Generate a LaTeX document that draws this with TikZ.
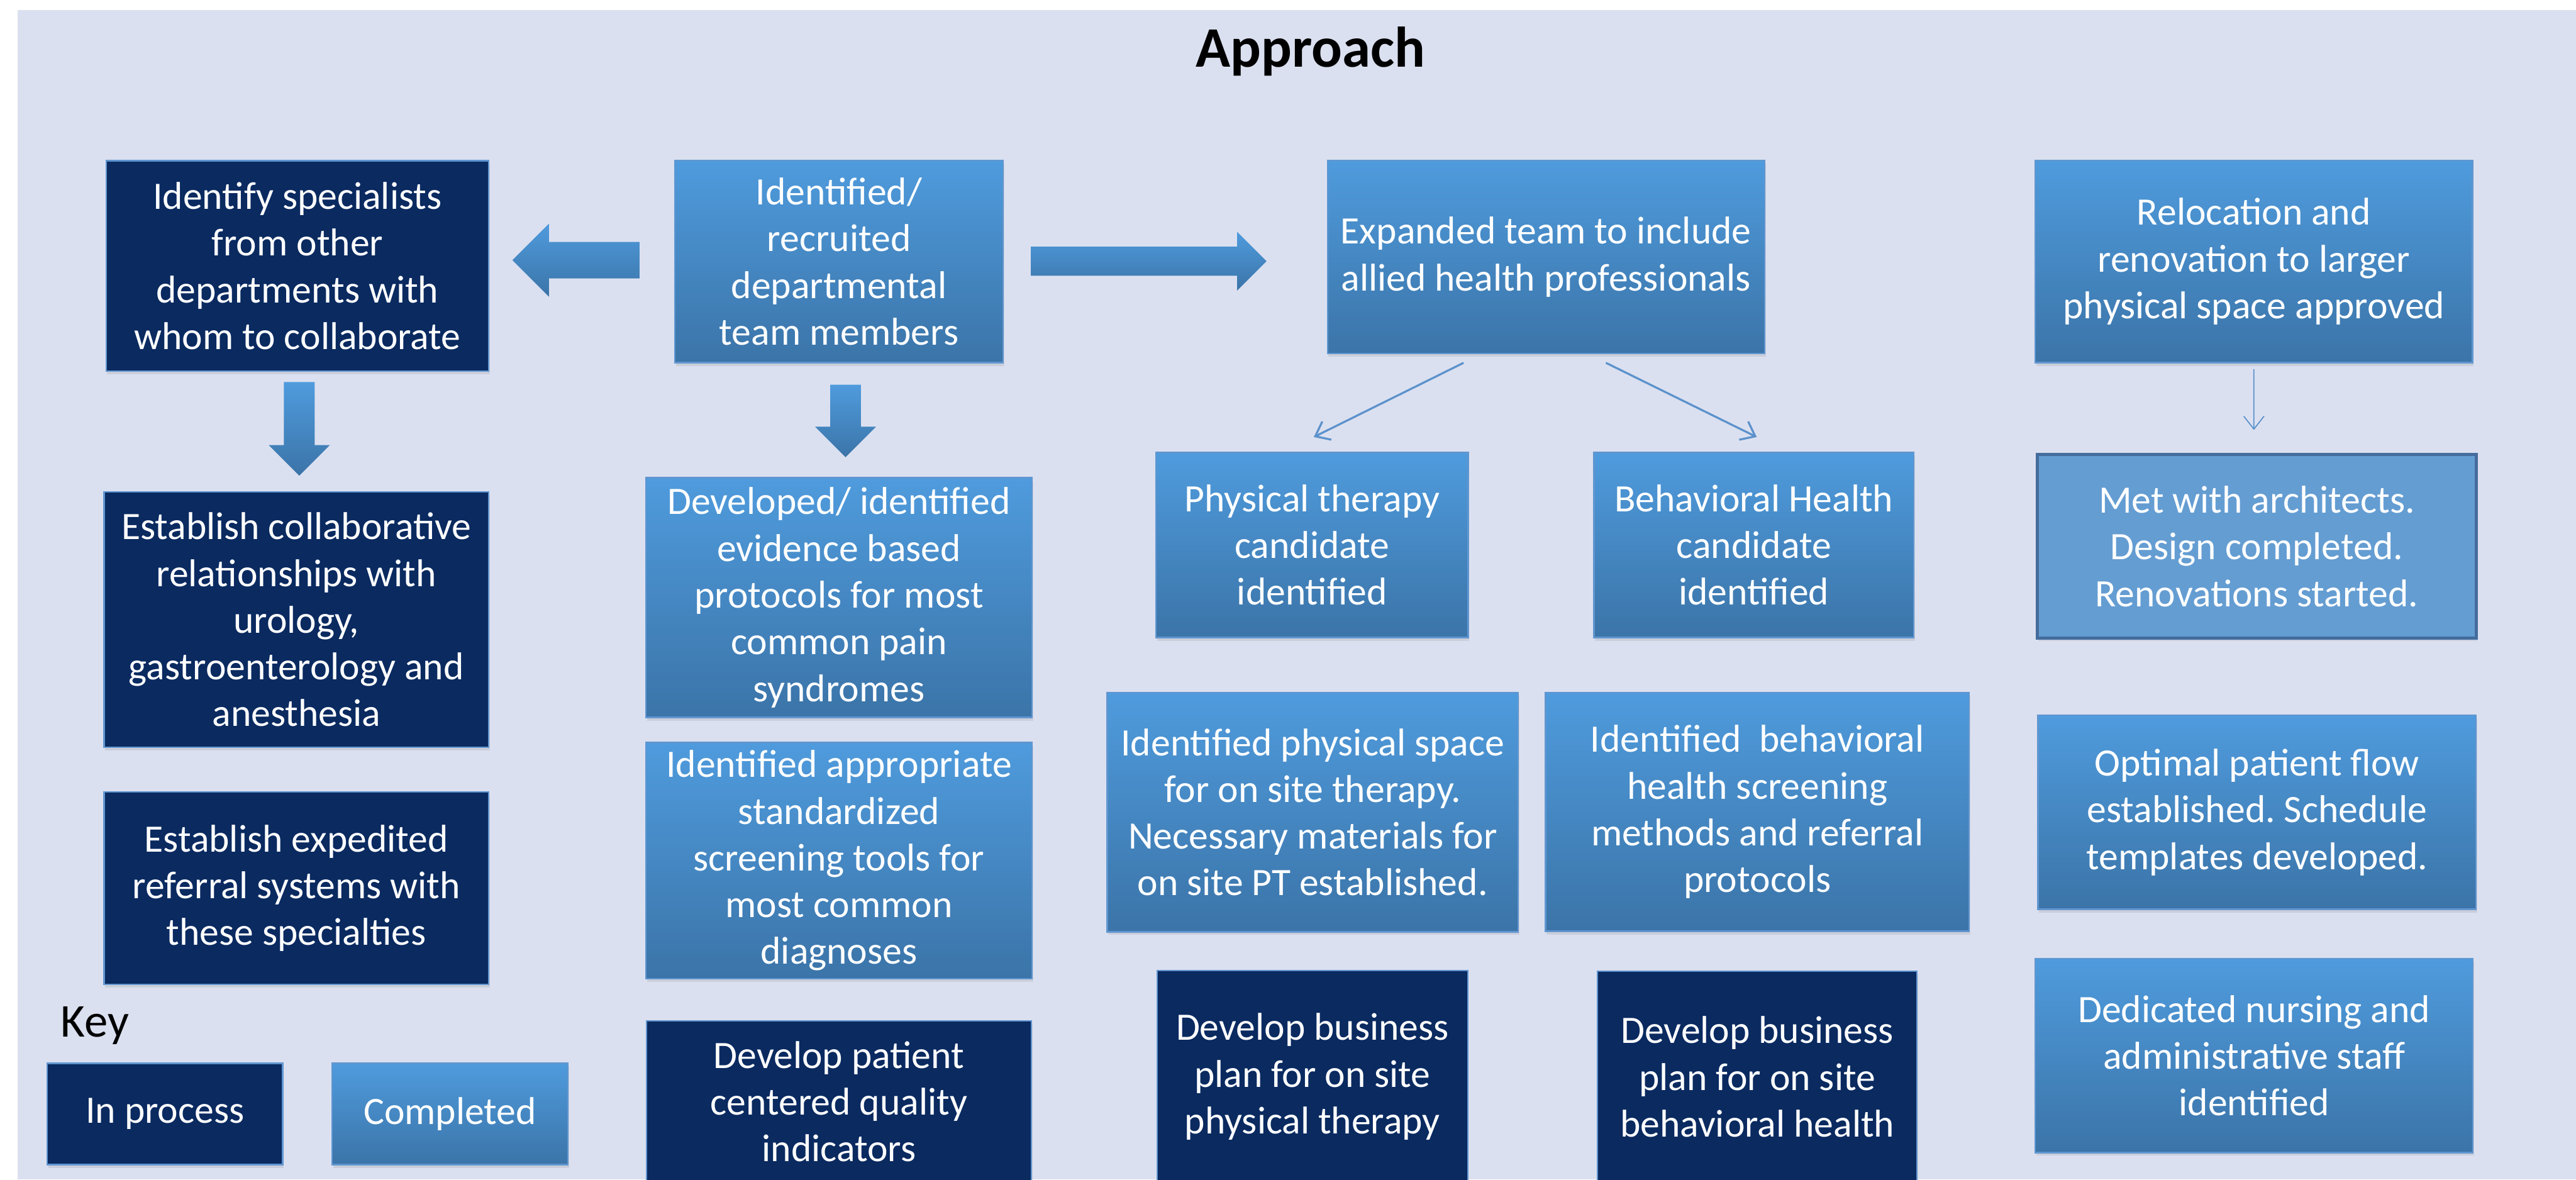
\documentclass[tikz,border=0pt]{standalone}
\usepackage{fontspec}
\setmainfont{Carlito}
\frenchspacing
\usetikzlibrary{arrows.meta,shapes.arrows,shadows}

\definecolor{panel}{RGB}{219,224,240}
\definecolor{navy}{RGB}{10,42,96}
\definecolor{skytop}{RGB}{79,155,221}
\definecolor{skybottom}{RGB}{59,116,168}
\definecolor{rim}{RGB}{96,150,208}
\definecolor{midblue}{RGB}{100,157,210}
\definecolor{midrim}{RGB}{68,108,156}
\definecolor{wire}{RGB}{92,146,204}

\newcommand{\boxfont}{\fontsize{21}{25.3}\selectfont}

\tikzset{
    box/.style={draw=rim, line width=0.8pt, text=white, align=center,
                inner sep=0pt, font=\boxfont,
                drop shadow={shadow xshift=0.02cm, shadow yshift=-0.06cm,
                             opacity=0.18}},
    completed/.style={box, top color=skytop, bottom color=skybottom},
    inprocess/.style={box, fill=navy},
    underway/.style={box, fill=midblue, draw=midrim, line width=1.6pt},
    bigarrow/.style={single arrow, anchor=tip,
                     top color=skytop, bottom color=skybottom},
    link/.style={draw=wire, line width=1.1pt,
                 -{Straight Barb[length=7pt, width=11pt]}},
}

\begin{document}
\begin{tikzpicture}

    \useasboundingbox (0,0) rectangle (49.02,22.44);
    \fill[white] (0,0) rectangle (49.02,22.44);
    \fill[panel] (0.34,0) rectangle (49.02,22.25);

    \node[font=\fontsize{31}{37}\selectfont\bfseries, anchor=base] (title) at (24.94,21.17) {Approach};

    % top row
    \node[inprocess, minimum width=7.28cm, minimum height=4.00cm] (specialists) at (5.66,17.38)
        {Identify specialists\\from other\\departments with\\whom to collaborate};
    \node[completed, minimum width=6.25cm, minimum height=3.85cm] (recruited) at (15.965,17.465)
        {Identified/\\recruited\\departmental\\team members};
    \node[completed, minimum width=8.32cm, minimum height=3.68cm] (expanded) at (29.42,17.55)
        {Expanded team to include\\allied health professionals};
    \node[completed, minimum width=8.32cm, minimum height=3.85cm] (relocation) at (42.89,17.465)
        {Relocation and\\renovation to larger\\physical space approved};

    % block arrows (shaft = 2 x inner sep)
    \node[bigarrow, shape border rotate=180, inner sep=0.34cm, minimum height=2.42cm,
          minimum width=1.38cm, single arrow head extend=0.35cm] (toleft) at (9.74,17.49) {};
    \node[bigarrow, inner sep=0.27cm, minimum height=4.48cm, minimum width=1.10cm,
          single arrow head extend=0.28cm] (toright) at (24.11,17.47) {};
    \node[bigarrow, shape border rotate=270, inner sep=0.285cm, minimum height=1.78cm,
          minimum width=1.15cm, single arrow head extend=0.29cm] (downleft) at (5.695,13.38) {};
    \node[bigarrow, shape border rotate=270, inner sep=0.285cm, minimum height=1.38cm,
          minimum width=1.16cm, single arrow head extend=0.29cm] (downmid) at (16.09,13.73) {};

    % second row
    \node[inprocess, minimum width=7.32cm, minimum height=4.86cm] (collab) at (5.64,10.65)
        {Establish collaborative\\relationships with\\urology,\\gastroenterology and\\anesthesia};
    \node[completed, minimum width=7.35cm, minimum height=4.56cm] (protocols) at (15.965,11.07)
        {Developed/ identified\\evidence based\\protocols for most\\common pain\\syndromes};
    \node[completed, minimum width=5.94cm, minimum height=3.52cm] (ptcand) at (24.97,12.07)
        {Physical therapy\\candidate\\identified};
    \node[completed, minimum width=6.09cm, minimum height=3.52cm] (bhcand) at (33.375,12.07)
        {Behavioral Health\\candidate\\identified};
    \node[underway, minimum width=8.35cm, minimum height=3.49cm] (architects) at (42.945,12.045)
        {Met with architects.\\Design completed.\\Renovations started.};

    % third row
    \node[inprocess, minimum width=7.32cm, minimum height=3.66cm] (referral) at (5.64,5.54)
        {Establish expedited\\referral systems with\\these specialties};
    \node[completed, minimum width=7.35cm, minimum height=4.49cm] (tools) at (15.965,6.065)
        {Identified appropriate\\standardized\\screening tools for\\most common\\diagnoses};
    \node[completed, minimum width=7.82cm, minimum height=4.55cm] (ptspace) at (24.98,6.985)
        {Identified physical space\\for on site therapy.\\Necessary materials for\\on site PT established.};
    \node[completed, minimum width=8.06cm, minimum height=4.54cm] (bhscreen) at (33.44,6.99)
        {Identified~ behavioral\\health screening\\methods and referral\\protocols};
    \node[completed, minimum width=8.34cm, minimum height=3.69cm] (flow) at (42.95,6.985)
        {Optimal patient flow\\established. Schedule\\templates developed.};

    % bottom row
    \node[inprocess, minimum width=7.33cm, minimum height=3.08cm] (quality) at (15.965,1.48)
        {Develop patient\\centered quality\\indicators};
    \node[inprocess, minimum width=5.91cm, minimum height=4.03cm] (ptplan) at (24.975,1.955)
        {Develop business\\plan for on site\\physical therapy};
    \node[inprocess, minimum width=6.08cm, minimum height=4.02cm] (bhplan) at (33.44,1.95)
        {Develop business\\plan for on site\\behavioral health};
    \node[completed, minimum width=8.33cm, minimum height=3.69cm] (staff) at (42.895,2.355)
        {Dedicated nursing and\\administrative staff\\identified};

    % legend
    \node[font=\fontsize{25.5}{30}\selectfont, anchor=base west, inner sep=0pt] (key) at (1.15,2.71) {Key};
    \node[inprocess, minimum width=4.48cm, minimum height=1.93cm] (keyopen) at (3.14,1.245) {In process};
    \node[completed, minimum width=4.49cm, minimum height=1.93cm] (keydone) at (8.565,1.245) {Completed};

    \draw[link] ([xshift=-1.57cm,yshift=-0.16cm]expanded.south) -- ([xshift=0.03cm,yshift=0.28cm]ptcand.north);
    \draw[link] ([xshift=1.14cm,yshift=-0.16cm]expanded.south) -- ([xshift=0.055cm,yshift=0.28cm]bhcand.north);
    \draw[link, line width=0.6pt] ([yshift=-0.11cm]relocation.south) -- ([xshift=-0.055cm,yshift=0.44cm]architects.north);

\end{tikzpicture}
\end{document}
